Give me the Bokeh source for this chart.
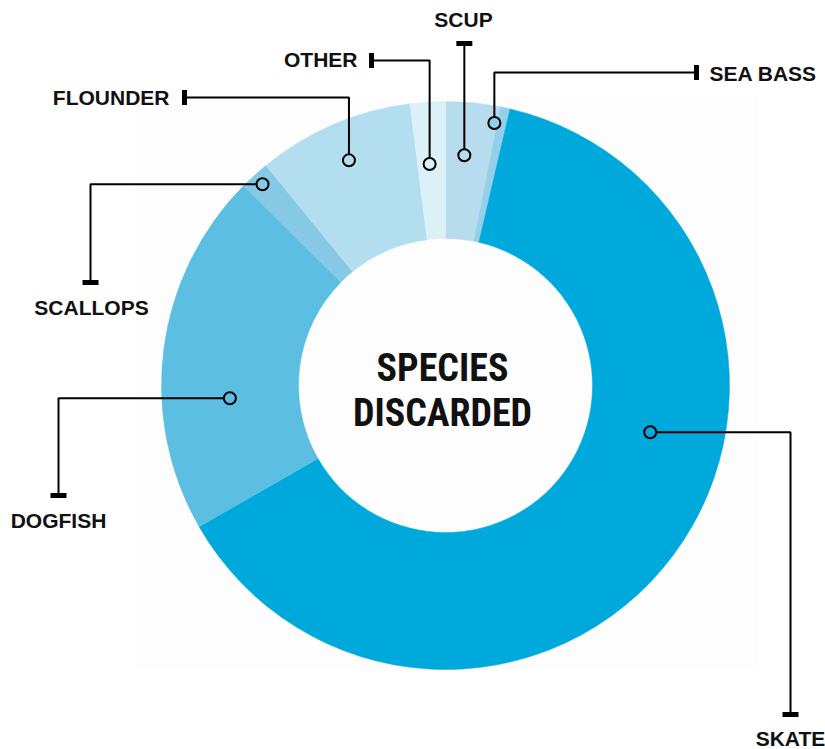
import math
from bokeh.plotting import figure
from bokeh.models import Range1d
from bokeh.core.properties import value
from bokeh.embed import file_html
from bokeh.resources import INLINE

# ---------------- data (clockwise from 12 o'clock) ----------------
species = ["SCUP", "SEA BASS", "SKATE", "DOGFISH", "SCALLOPS", "FLOUNDER", "OTHER"]
shares = [3.1, 0.55, 63.1, 20.7, 1.7, 8.9, 2.0]
colors = ["#b7dced", "#93d0ea", "#00a9dc", "#5cbfe1", "#86c9e4", "#b3deef", "#dcf0f8"]
center_title = ["SPECIES", "DISCARDED"]

# ---------------- layout (screen pixel coordinates of the page) ----------------
W, H = 825, 749
CX, CY = 445, 385          # donut centre (screen)
R_OUT, R_IN = 284, 147

# dot placement: (radius, angle offset in degrees from slice middle)
dot_layout = {
    "SCUP": (231, -0.9),
    "SEA BASS": (267, -1.6),
    "SKATE": (210, -23.8),
    "DOGFISH": (216, -10.8),
    "SCALLOPS": (272, 0.0),
    "FLOUNDER": (245, 0.0),
    "OTHER": (222, -0.5),
}
# route: ("v", y_level, x_end) -> vertical first then horizontal
#        ("h", x_level, y_end) -> horizontal first then vertical
#        ("s", y_end)          -> straight vertical
routes = {
    "SCUP": ("s", 43),
    "SEA BASS": ("v", 72, 696),
    "OTHER": ("v", 60, 371),
    "FLOUNDER": ("v", 97, 184),
    "SCALLOPS": ("h", 90, 282),
    "DOGFISH": ("h", 58, 495),
    "SKATE": ("h", 790, 714),
}
# label: (x, y, align)
labels = {
    "SCUP": (463, 19, "center"),
    "SEA BASS": (709, 73, "left"),
    "OTHER": (357, 59, "right"),
    "FLOUNDER": (169, 97, "right"),
    "SCALLOPS": (91, 307, "center"),
    "DOGFISH": (58, 520, "center"),
    "SKATE": (790, 738, "center"),
}


def Y(ys):
    return H - ys


p = figure(width=W, height=H, output_backend="svg", toolbar_location=None,
           x_range=Range1d(0, W), y_range=Range1d(0, H), min_border=0)
p.axis.visible = False
p.grid.visible = False
p.outline_line_color = None
p.background_fill_color = "white"
p.border_fill_color = "white"

# faint panel behind the donut
p.quad(left=135, right=758, top=Y(95), bottom=Y(670), fill_color="#fdfdfd", line_color=None)

# ---------------- donut ----------------
total = sum(shares)
theta0 = []
theta1 = []
acc = 0.0
for s in shares:
    theta0.append(acc / total * 360.0)
    acc += s
    theta1.append(acc / total * 360.0)

start = [math.pi / 2 - math.radians(a) for a in theta0]
end = [math.pi / 2 - math.radians(b) for b in theta1]

p.annular_wedge(x=[CX] * len(shares), y=[Y(CY)] * len(shares),
                inner_radius=R_IN, outer_radius=R_OUT,
                inner_radius_units="screen", outer_radius_units="screen",
                start_angle=start, end_angle=end, direction="clock",
                fill_color=colors, line_color=colors, line_width=0.5)

# ---------------- callouts ----------------
dot_x, dot_y, dot_c = [], [], []
for i, name in enumerate(species):
    r, off = dot_layout[name]
    mid = (theta0[i] + theta1[i]) / 2 + off
    dx = CX + r * math.sin(math.radians(mid))
    dy = Y(CY) + r * math.cos(math.radians(mid))
    dot_x.append(dx)
    dot_y.append(dy)
    dot_c.append(colors[i])

    route = routes[name]
    if route[0] == "v":
        _, yl, xe = route
        p.line([dx, dx, xe], [dy, Y(yl), Y(yl)], line_color="black", line_width=2)
        p.rect(x=xe, y=Y(yl), width=5, height=15, width_units="screen",
               height_units="screen", fill_color="black", line_color=None)
    elif route[0] == "h":
        _, xl, ye = route
        p.line([dx, xl, xl], [dy, dy, Y(ye)], line_color="black", line_width=2)
        p.rect(x=xl, y=Y(ye), width=16, height=5, width_units="screen",
               height_units="screen", fill_color="black", line_color=None)
    else:
        _, ye = route
        p.line([dx, dx], [dy, Y(ye)], line_color="black", line_width=2)
        p.rect(x=dx, y=Y(ye), width=16, height=5, width_units="screen",
               height_units="screen", fill_color="black", line_color=None)

    lx, ly, al = labels[name]
    p.text(x=[lx], y=[Y(ly)], text=[name], text_align=al, text_baseline="middle",
           text_font=value("Liberation Sans"), text_font_style="bold",
           text_font_size="21px", text_color="#111111")

p.scatter(x=dot_x, y=dot_y, marker="circle", size=12, fill_color=dot_c,
          line_color="black", line_width=2)

# centre title
p.text(x=[442, 442], y=[Y(367), Y(412)], text=center_title, text_align="center",
       text_baseline="middle",
       text_font=value("'Roboto Condensed', 'Noto Sans ExtraCondensed', 'Noto Sans Condensed', "
                       "'Liberation Sans Narrow', 'DejaVu Sans Condensed'"),
       text_font_style="bold", text_font_size="38px", text_color="#111111")

open("out.html", "w").write(file_html(p, INLINE))
